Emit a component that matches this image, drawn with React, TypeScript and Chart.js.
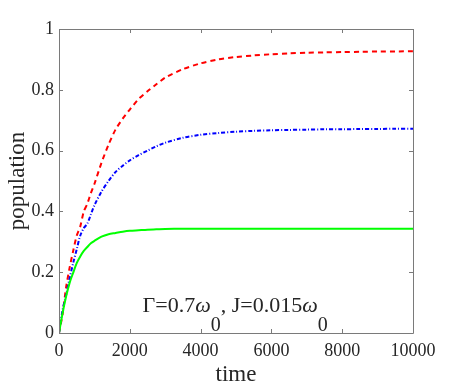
import React, { useEffect, useRef } from "react";
import { Chart, registerables } from "chart.js";

Chart.register(...registerables);

const times = [0, 100, 200, 300, 400, 500, 600, 700, 800, 900, 1000, 1200, 1400, 1600, 1800, 2000, 2250, 2500, 2750, 3000, 3500, 4000, 4500, 5000, 5500, 6000, 6500, 7000, 7500, 8000, 8500, 9000, 9500, 10000];

const redValues = [0, 0.06, 0.15, 0.215, 0.27, 0.32, 0.35, 0.4, 0.425, 0.46, 0.49, 0.56, 0.62, 0.67, 0.705, 0.735, 0.77, 0.795, 0.818, 0.84, 0.868, 0.887, 0.9, 0.908, 0.913, 0.917, 0.92, 0.922, 0.923, 0.924, 0.925, 0.926, 0.926, 0.927];

const blueValues = [0, 0.075, 0.125, 0.18, 0.23, 0.275, 0.32, 0.345, 0.36, 0.39, 0.42, 0.465, 0.5, 0.53, 0.55, 0.568, 0.585, 0.6, 0.614, 0.626, 0.642, 0.652, 0.658, 0.662, 0.665, 0.667, 0.668, 0.669, 0.67, 0.67, 0.671, 0.671, 0.672, 0.672];

const greenValues = [0, 0.065, 0.12, 0.165, 0.198, 0.23, 0.252, 0.27, 0.283, 0.295, 0.303, 0.317, 0.325, 0.329, 0.333, 0.336, 0.338, 0.34, 0.341, 0.342, 0.343, 0.343, 0.343, 0.343, 0.343, 0.343, 0.343, 0.343, 0.343, 0.343, 0.343, 0.343, 0.343, 0.343];

const xTicks = [0, 2000, 4000, 6000, 8000, 10000];
const yTicks = [0, 0.2, 0.4, 0.6, 0.8, 1];

const ANNOT_X = 2360;
const ANNOT_Y = 0.07;

const FONT = "'Liberation Serif', 'Times New Roman', serif";
const AXIS_COLOR = "#7a7a7a";
const TEXT_COLOR = "#262626";

const boxPlugin = {
  id: "boxPlugin",
  afterDraw(chart: any) {
    const { ctx, chartArea } = chart;
    const xs = chart.scales.x;
    const ys = chart.scales.y;
    const { left, right, top, bottom } = chartArea;
    ctx.save();
    ctx.strokeStyle = AXIS_COLOR;
    ctx.lineWidth = 1;
    ctx.beginPath();
    ctx.rect(Math.round(left) + 0.5, Math.round(top) + 0.5, Math.round(right - left), Math.round(bottom - top));
    ctx.stroke();
    const tl = 4;
    ctx.beginPath();
    xTicks.forEach((v) => {
      const px = Math.round(xs.getPixelForValue(v)) + 0.5;
      ctx.moveTo(px, bottom);
      ctx.lineTo(px, bottom - tl);
      ctx.moveTo(px, top);
      ctx.lineTo(px, top + tl);
    });
    yTicks.forEach((v) => {
      const py = Math.round(ys.getPixelForValue(v)) + 0.5;
      ctx.moveTo(left, py);
      ctx.lineTo(left + tl, py);
      ctx.moveTo(right, py);
      ctx.lineTo(right - tl, py);
    });
    ctx.stroke();

    // annotation
    const x0 = xs.getPixelForValue(ANNOT_X);
    const y0 = ys.getPixelForValue(ANNOT_Y);
    const main = `22px ${FONT}`;
    const ital = `italic 22px ${FONT}`;
    const sub = `20px ${FONT}`;
    const parts: [string, string, number][] = [
      ["\u0393=0.7", main, 0],
      ["\u03c9", ital, 0],
      ["0", sub, 19],
      [", J=0.015", main, 0],
      ["\u03c9", ital, 0],
      ["0", sub, 19],
    ];
    ctx.fillStyle = TEXT_COLOR;
    ctx.textBaseline = "alphabetic";
    ctx.textAlign = "left";
    let cx = x0;
    parts.forEach(([t, f, dy]) => {
      ctx.font = f;
      ctx.fillText(t, cx, y0 + dy);
      cx += ctx.measureText(t).width;
    });
    ctx.restore();
  },
};

export default function App() {
  const ref = useRef<HTMLCanvasElement | null>(null);
  useEffect(() => {
    document.body.style.margin = "0";
    const canvas = ref.current;
    if (!canvas) return;
    const mk = (vals: number[]) => times.map((t, i) => ({ x: t, y: vals[i] }));
    const chart = new Chart(canvas, {
      type: "line",
      data: {
        datasets: [
          {
            data: mk(greenValues),
            borderColor: "#00ff00",
            borderWidth: 2,
            pointRadius: 0,
            tension: 0.3,
            fill: false,
          },
          {
            data: mk(blueValues),
            borderColor: "#0000ff",
            borderWidth: 2,
            borderDash: [4, 2, 1, 2],
            pointRadius: 0,
            tension: 0.3,
            fill: false,
          },
          {
            data: mk(redValues),
            borderColor: "#ff0000",
            borderWidth: 2,
            borderDash: [5, 4],
            pointRadius: 0,
            tension: 0.2,
            fill: false,
          },
        ],
      },
      options: {
        animation: false,
        responsive: false,
        maintainAspectRatio: false,
        layout: { padding: { top: 29, right: 44, left: 0, bottom: 0 } },
        plugins: { legend: { display: false }, tooltip: { enabled: false } },
        scales: {
          x: {
            type: "linear",
            min: 0,
            max: 10000,
            afterFit: (s: any) => {
              s.height = 56;
            },
            afterBuildTicks: (s: any) => {
              s.ticks = xTicks.map((v) => ({ value: v }));
            },
            grid: { display: false, drawTicks: false },
            border: { display: false },
            ticks: {
              padding: 7,
              color: TEXT_COLOR,
              font: { family: FONT, size: 18 },
              maxRotation: 0,
              callback: (v: any) => String(v),
            },
            title: {
              display: true,
              text: "time",
              color: TEXT_COLOR,
              font: { family: FONT, size: 23 },
              padding: { top: 0, bottom: 0 },
            },
          },
          y: {
            type: "linear",
            min: 0,
            max: 1,
            afterFit: (s: any) => {
              s.width = 59;
            },
            afterBuildTicks: (s: any) => {
              s.ticks = yTicks.map((v) => ({ value: v }));
            },
            grid: { display: false, drawTicks: false },
            border: { display: false },
            ticks: {
              padding: 5,
              color: TEXT_COLOR,
              font: { family: FONT, size: 18 },
              callback: (v: any) => String(v),
            },
            title: {
              display: true,
              text: "population",
              color: TEXT_COLOR,
              font: { family: FONT, size: 23 },
              padding: { top: 4, bottom: 4 },
            },
          },
        },
      },
      plugins: [boxPlugin],
    });
    return () => chart.destroy();
  }, []);
  return (
    <div style={{ width: 457, height: 389 }}>
      <canvas ref={ref} width={457} height={389} style={{ display: "block" }} />
    </div>
  );
}
